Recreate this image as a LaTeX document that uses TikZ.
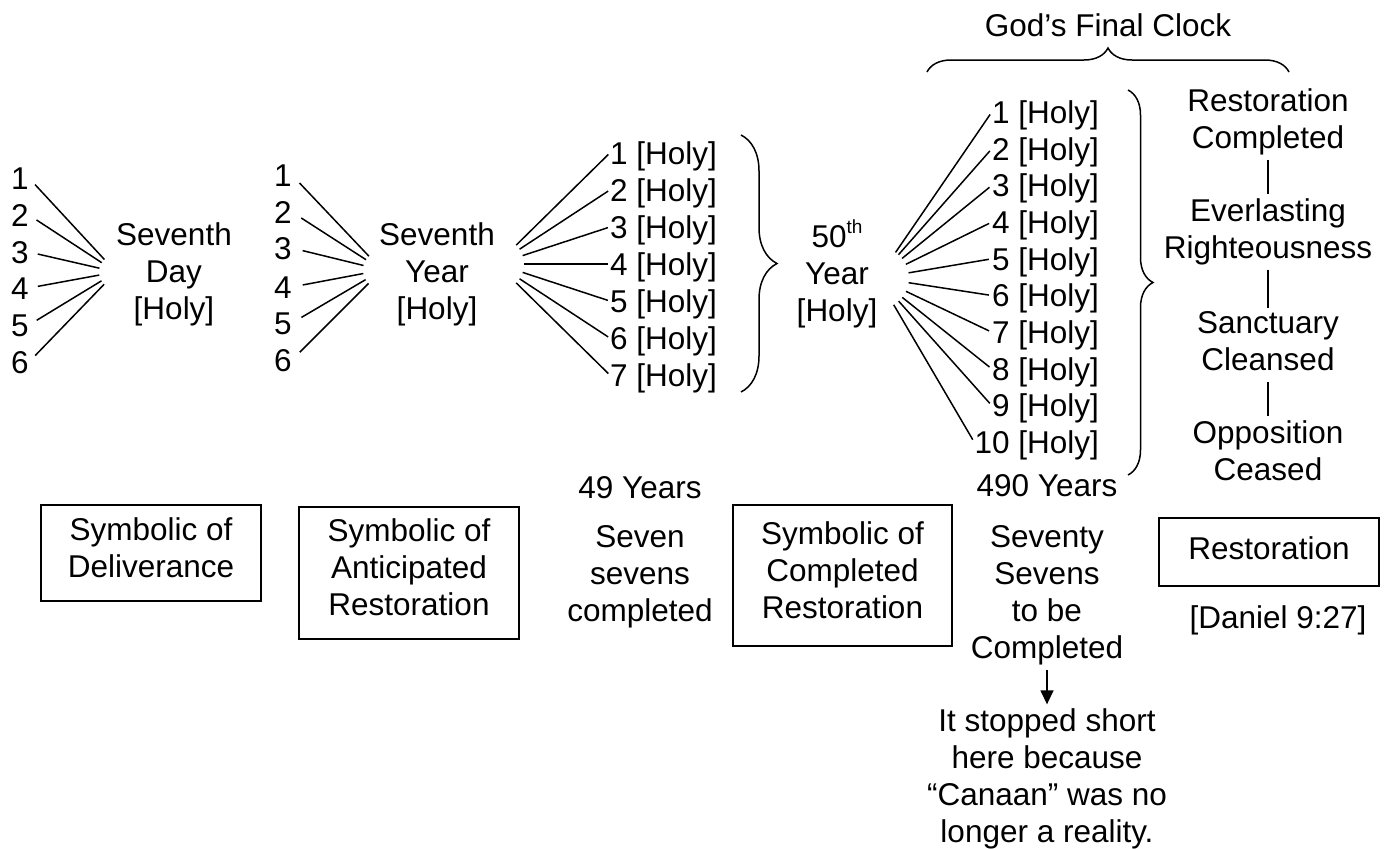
\documentclass[tikz,border=0pt]{standalone}
\usepackage{fontspec}
\setmainfont{Liberation Sans}
\usetikzlibrary{decorations.pathreplacing,arrows.meta}
\begin{document}
\begin{tikzpicture}[x=1pt,y=-1pt,
  txt/.style={font=\fontsize{31.5}{37}\selectfont, inner sep=0pt},
  lab/.style={txt, text height=22.6pt, text depth=0pt},
  ml/.style={txt, align=center, execute at begin node=\strut, execute at end node=\strut},
  box/.style={ml, draw, line width=1.6pt},
  fan/.style={line width=1.5pt},
  lnk/.style={line width=1.4pt, shorten >=4pt},
  arr/.style={line width=1.4pt, shorten >=4pt, -{Triangle[width=13pt,length=14pt]}},
  brc/.style={line width=1.5pt, decorate},
]
\useasboundingbox (0,0) rectangle (1393,849);

% title and top brace
\node[lab] (title) at (1108,25) {God’s Final Clock};
\coordinate (tb1) at (927,72);
\coordinate (tb2) at (1289,72);
\draw[brc, decoration={brace, amplitude=24pt}] (tb1) -- (tb2);

% group 1
\foreach \i/\y in {1/178,2/215,3/252,4/288,5/325,6/362}
  \node[lab] (a\i) at (20,\y) {\i};
\coordinate (ha) at (116,272);
\node[ml] (A) at (174,277) {Seventh\\Day\\{[Holy]}};
\foreach \i in {1,...,6}
  \draw[fan, shorten <=9pt, shorten >=17pt] (a\i.east) -- (ha);

% group 2
\foreach \i/\y in {1/175,2/212,3/248,4/287,5/323,6/360}
  \node[lab] (b\i) at (283,\y) {\i};
\coordinate (hb) at (382,270);
\node[ml] (B) at (437,277) {Seventh\\Year\\{[Holy]}};
\foreach \i in {1,...,6}
  \draw[fan, shorten <=11pt, shorten >=19pt] (b\i.east) -- (hb);

% group 3
\coordinate (hc) at (497,264);
\foreach \i in {1,...,7}
  \node[lab, anchor=east] (c\i) at (717,{153+37*(\i-1)}) {\i\ [Holy]};
\foreach \i in {1,...,7}
  \draw[fan, shorten <=27pt, shorten >=2pt] (hc) -- (c\i.west);
\coordinate (mb1) at (741,135);
\coordinate (mb2) at (741,392);
\draw[brc, decoration={brace, amplitude=36pt}] (mb1) -- (mb2);

% group 4
\node[ml] (D) at (837,276) {50\raisebox{14pt}{\fontsize{19}{19}\selectfont th}\\Year\\{[Holy]}};
\coordinate (hd) at (878,278);
\foreach \i in {1,...,10}
  \node[lab, anchor=east] (d\i) at (1099,{112+36.7*(\i-1)}) {\i\ [Holy]};
\foreach \i in {1,...,10}
  \draw[fan, shorten <=31pt, shorten >=3pt] (hd) -- (d\i.west);
\coordinate (bb1) at (1128,90);
\coordinate (bb2) at (1128,475);
\draw[brc, decoration={brace, amplitude=25pt}] (bb1) -- (bb2);

% right column
\node[ml] (rc) at (1268,124) {Restoration\\Completed};
\node[ml] (er) at (1268,234) {Everlasting\\Righteousness};
\node[ml] (sc) at (1268,347) {Sanctuary\\Cleansed};
\node[ml] (oc) at (1268,456) {Opposition\\Ceased};
\draw[lnk] (rc.south) -- (er.north);
\draw[lnk] (er.south) -- (sc.north);
\draw[lnk] (sc.south) -- (oc.north);

% bottom row
\node[lab] (y49) at (640,487) {49 Years};
\node[lab] (y490) at (1047,485) {490 Years};
\node[box, minimum width=220pt, minimum height=96pt] (s1) at (151,553) {Symbolic of\\Deliverance};
\node[box, minimum width=220pt, minimum height=132pt] (s2) at (409,573) {Symbolic of\\Anticipated\\Restoration};
\node[ml] (ss) at (640,579) {Seven\\sevens\\completed};
\node[box, minimum width=219pt, minimum height=141pt] (s3) at (842.5,575.5) {Symbolic of\\Completed\\Restoration};
\node[ml] (sv) at (1047,598) {Seventy\\Sevens\\to be\\Completed};
\node[ml] (st) at (1047,781) {It stopped short\\here because\\“Canaan” was no\\longer a reality.};
\draw[arr] (sv.south) -- (st.north);
\node[box, minimum width=220pt, minimum height=68pt] (s4) at (1269,552) {Restoration};
\node[lab] (dan) at (1278,617) {[Daniel 9:27]};
\end{tikzpicture}
\end{document}
